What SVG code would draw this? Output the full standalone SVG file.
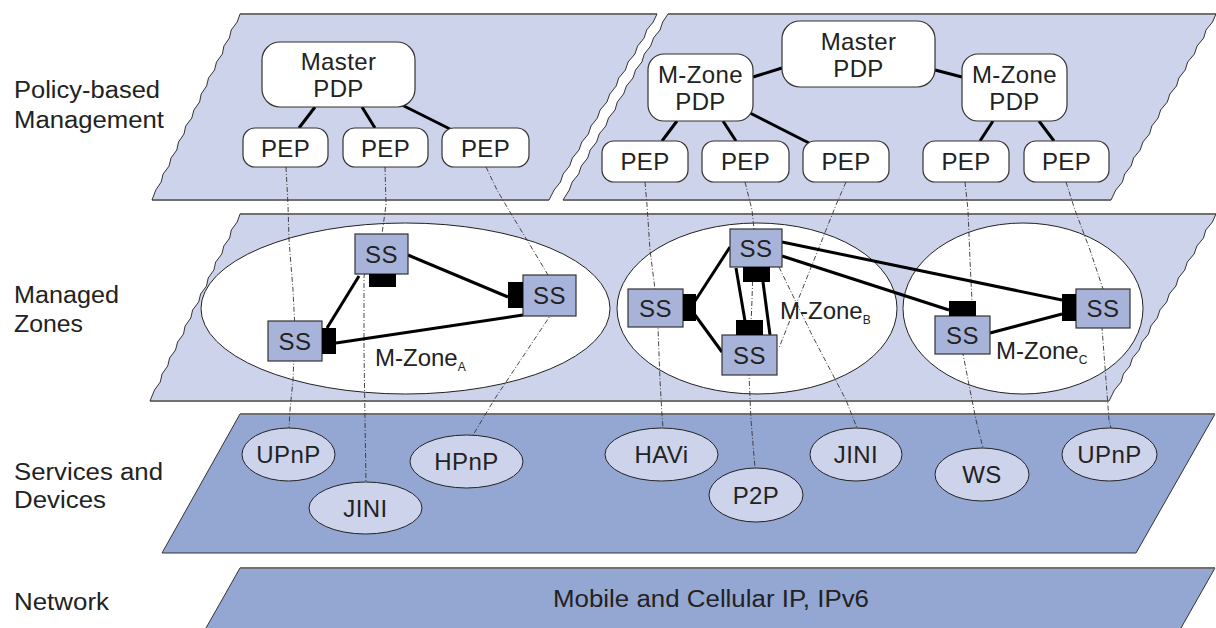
<svg xmlns="http://www.w3.org/2000/svg" width="1216" height="628" viewBox="0 0 1216 628">
<style>
text{font-family:"Liberation Sans",Arial,Helvetica,sans-serif;fill:#222;}
.lbl{font-size:23px;}
.nt{font-size:24px;text-anchor:middle;letter-spacing:0.4px;}
.zl{font-size:24px;}
.sub{font-size:12px;}
.lay1{fill:#cdd3eb;stroke:none;}
.lay2{fill:#94a6d2;stroke:none;}
.edge{fill:none;stroke:#707070;stroke-width:2;}
.jag{fill:none;stroke:#333;stroke-width:1;stroke-linejoin:round;}
.box{fill:#fff;stroke:#333;stroke-width:1.2;}
.zone{fill:#fff;stroke:#222;stroke-width:1;}
.ss{fill:#a8b3da;stroke:#333;stroke-width:1.2;}
.port{fill:#000;}
.svc{fill:#cdd3eb;stroke:#222;stroke-width:1;}
.thick{fill:none;stroke:#000;stroke-width:3;}
.dash{fill:none;stroke:#333;stroke-width:0.9;stroke-dasharray:5 2 1 2;}
</style>

<!-- layer backgrounds -->
<g id="layer-policy">
<path class="lay1" d="M240,14 L657,14 653.2,22 646.7,30 644.1,38 637.6,46 634.9,54 628.1,62 625.4,70 618.7,78 616.2,86 609.8,94 606.9,102 600.1,110 597.4,118 591,126 588.4,134 581.8,142 579,150 572.4,158 569.6,166 563.1,174 560.5,182 554.1,190 549,200 L152,200 155.8,190 161.2,182 163.1,174 169.1,166 171,158 176.8,150 178.5,142 184,134 185.7,126 191.8,118 193.9,110 199.6,102 201.2,94 206.6,86 208.5,78 214.5,70 216.5,62 222.4,54 223.9,46 229.4,38 231.2,30 237.2,22 Z"/>
<path class="lay1" d="M668,14 L1216,14 1212.5,22 1206,30 1203.7,38 1197.1,46 1194.4,54 1187.7,62 1185.2,70 1178.9,78 1176.5,86 1169.9,94 1167.3,102 1160.6,110 1158.1,118 1151.8,126 1149.5,134 1142.9,142 1140.2,150 1133.6,158 1131.1,166 1124.7,174 1122.4,182 1115.8,190 1111,200 L563,200 569.3,190 572.2,182 578.7,174 581.3,166 587.7,158 590.2,150 596.6,142 599.2,134 605.8,126 608.5,118 615,110 617.3,102 623.6,94 626.4,86 633,78 635.5,70 641.9,62 644.3,54 650.7,46 653.5,38 660,30 662.7,22 Z"/>
<line class="edge" x1="240" y1="14" x2="657" y2="14"/>
<line class="edge" x1="668" y1="14" x2="1216" y2="14"/>
<line class="edge" x1="152" y1="200" x2="549" y2="200"/>
<line class="edge" x1="563" y1="200" x2="1111" y2="200"/>
<polyline class="jag" points="240,14 237.2,22 231.2,30 229.4,38 223.9,46 222.4,54 216.5,62 214.5,70 208.5,78 206.6,86 201.2,94 199.6,102 193.9,110 191.8,118 185.7,126 184,134 178.5,142 176.8,150 171,158 169.1,166 163.1,174 161.2,182 155.8,190 152,200"/>
<polyline class="jag" points="657,14 653.2,22 646.7,30 644.1,38 637.6,46 634.9,54 628.1,62 625.4,70 618.7,78 616.2,86 609.8,94 606.9,102 600.1,110 597.4,118 591,126 588.4,134 581.8,142 579,150 572.4,158 569.6,166 563.1,174 560.5,182 554.1,190 549,200"/>
<polyline class="jag" points="668,14 662.7,22 660,30 653.5,38 650.7,46 644.3,54 641.9,62 635.5,70 633,78 626.4,86 623.6,94 617.3,102 615,110 608.5,118 605.8,126 599.2,134 596.6,142 590.2,150 587.7,158 581.3,166 578.7,174 572.2,182 569.3,190 563,200"/>
<polyline class="jag" points="1216,14 1212.5,22 1206,30 1203.7,38 1197.1,46 1194.4,54 1187.7,62 1185.2,70 1178.9,78 1176.5,86 1169.9,94 1167.3,102 1160.6,110 1158.1,118 1151.8,126 1149.5,134 1142.9,142 1140.2,150 1133.6,158 1131.1,166 1124.7,174 1122.4,182 1115.8,190 1111,200"/>
</g>

<g id="layer-zones">
<path class="lay1" d="M240,214 L1216,214 1212.4,222 1205.8,230 1203.5,238 1196.9,246 1194.1,254 1187.3,262 1184.8,270 1178.4,278 1175.9,286 1169.3,294 1166.7,302 1159.9,310 1157.3,318 1150.9,326 1148.5,334 1141.9,342 1139.2,350 1132.5,358 1129.9,366 1123.4,374 1121.1,382 1114.5,390 1109,401 L150,401 154.5,390 160.3,382 162,374 167.7,366 169.6,358 175.5,350 177.6,342 183.5,334 185.1,326 190.8,318 192.6,310 198.7,302 200.6,294 206.5,286 208.2,278 213.9,270 215.7,262 221.8,254 223.8,246 229.7,238 231.3,230 237.2,222 Z"/>
<line class="edge" x1="240" y1="214" x2="1216" y2="214"/>
<line class="edge" x1="150" y1="401" x2="1109" y2="401"/>
<polyline class="jag" points="240,214 237.2,222 231.3,230 229.7,238 223.8,246 221.8,254 215.7,262 213.9,270 208.2,278 206.5,286 200.6,294 198.7,302 192.6,310 190.8,318 185.1,326 183.5,334 177.6,342 175.5,350 169.6,358 167.7,366 162,374 160.3,382 154.5,390 150,401"/>
<polyline class="jag" points="1216,214 1212.4,222 1205.8,230 1203.5,238 1196.9,246 1194.1,254 1187.3,262 1184.8,270 1178.4,278 1175.9,286 1169.3,294 1166.7,302 1159.9,310 1157.3,318 1150.9,326 1148.5,334 1141.9,342 1139.2,350 1132.5,358 1129.9,366 1123.4,374 1121.1,382 1114.5,390 1109,401"/>
</g>

<g id="layer-services">
<polygon class="lay2" points="240,414 1215,414 1136,553 162,553"/>
<polyline class="jag" points="1215,414 1136,553 162,553 240,414"/>
<line class="edge" x1="240" y1="414" x2="1215" y2="414"/>
</g>

<g id="layer-network">
<polygon class="lay2" points="240,568 1215,568 1181,628 206,628"/>
<line class="jag" x1="240" y1="568" x2="206" y2="628"/>
<line class="jag" x1="1215" y1="568" x2="1181" y2="628"/>
<line class="edge" x1="240" y1="568" x2="1215" y2="568"/>
</g>

<!-- layer labels -->
<g id="labels">
<text class="lbl" x="14" y="98" textLength="146" lengthAdjust="spacingAndGlyphs">Policy-based</text>
<text class="lbl" x="14" y="128" textLength="150" lengthAdjust="spacingAndGlyphs">Management</text>
<text class="lbl" x="14" y="303" textLength="105" lengthAdjust="spacingAndGlyphs">Managed</text>
<text class="lbl" x="14" y="332" textLength="69" lengthAdjust="spacingAndGlyphs">Zones</text>
<text class="lbl" x="14" y="480" textLength="149" lengthAdjust="spacingAndGlyphs">Services and</text>
<text class="lbl" x="14" y="508" textLength="92" lengthAdjust="spacingAndGlyphs">Devices</text>
<text class="lbl" x="14" y="610" textLength="95" lengthAdjust="spacingAndGlyphs">Network</text>
</g>

<!-- zones -->
<g id="zone-A"><ellipse class="zone" cx="405.5" cy="308.5" rx="204.5" ry="85.5"/></g>
<g id="zone-B"><ellipse class="zone" cx="757" cy="308.5" rx="140" ry="85.5"/></g>
<g id="zone-C"><ellipse class="zone" cx="1023" cy="308.5" rx="120" ry="85.5"/></g>

<!-- connectors -->
<g id="connectors">
<polyline class="dash" points="286,167 288,205 289,240 293,290 295,330 293,380 290,410 289,428"/>
<polyline class="dash" points="385,167 386,205 382,234 364,276 364,350 365,420 366,482"/>
<polyline class="dash" points="486,167 497,190 510,212 530,245 548,275 550,316 522,358 494,400 473,435"/>
<polyline class="dash" points="645,182 647,205 650,250 655,289 658,327 660,380 662,415 663,428"/>
<polyline class="dash" points="745,182 752,210 754,229 752,300 749,375 751,420 755,468"/>
<polyline class="dash" points="846,182 836,205 810,270 790,320 779,348"/>
<polyline class="dash" points="779,267 812,335 846,400 857,428"/>
<polyline class="dash" points="965,182 968,210 970,260 972,301 966,340 963,354 970,390 976,420 983,448"/>
<polyline class="dash" points="1066,182 1075,210 1090,250 1103,289 1102,328 1106,380 1109,420 1111,428"/>

<line class="thick" x1="315" y1="107" x2="299" y2="128"/>
<line class="thick" x1="362" y1="107" x2="375" y2="128"/>
<line class="thick" x1="402" y1="105" x2="450" y2="129"/>
<line class="thick" x1="782" y1="68" x2="753" y2="77"/>
<line class="thick" x1="935" y1="70" x2="962" y2="77"/>
<line class="thick" x1="677" y1="121" x2="662" y2="141"/>
<line class="thick" x1="723" y1="121" x2="736" y2="141"/>
<line class="thick" x1="750" y1="113" x2="809" y2="143"/>
<line class="thick" x1="993" y1="121" x2="980" y2="141"/>
<line class="thick" x1="1039" y1="121" x2="1054" y2="141"/>

<line class="thick" x1="408" y1="255" x2="508" y2="297"/>
<line class="thick" x1="359" y1="276" x2="327" y2="328"/>
<line class="thick" x1="336" y1="343" x2="523" y2="315"/>
<line class="thick" x1="730" y1="247" x2="695" y2="301"/>
<line class="thick" x1="695" y1="315" x2="722" y2="352"/>
<line class="thick" x1="736" y1="268" x2="745" y2="321"/>
<line class="thick" x1="763" y1="282" x2="770" y2="335"/>
<line class="thick" x1="782" y1="256" x2="949" y2="310"/>
<line class="thick" x1="782" y1="242" x2="1062" y2="300"/>
<line class="thick" x1="990" y1="333" x2="1062" y2="314"/>
</g>

<!-- policy nodes -->
<g id="master-pdp-1"><rect class="box" x="262" y="42" width="153" height="65" rx="18"/><text class="nt" x="338.5" y="70">Master</text><text class="nt" x="338.5" y="97">PDP</text></g>
<g id="pep-1"><rect class="box" x="243" y="128" width="85" height="39" rx="12"/><text class="nt" x="285.5" y="157">PEP</text></g>
<g id="pep-2"><rect class="box" x="343" y="128" width="85" height="39" rx="12"/><text class="nt" x="385.5" y="157">PEP</text></g>
<g id="pep-3"><rect class="box" x="442" y="128" width="87" height="39" rx="12"/><text class="nt" x="485.5" y="157">PEP</text></g>

<g id="master-pdp-2"><rect class="box" x="782" y="21" width="153" height="66" rx="18"/><text class="nt" x="858.5" y="50">Master</text><text class="nt" x="858.5" y="77">PDP</text></g>
<g id="mzone-pdp-1"><rect class="box" x="648" y="54" width="105" height="67" rx="16"/><text class="nt" x="700.5" y="83">M-Zone</text><text class="nt" x="700.5" y="110">PDP</text></g>
<g id="mzone-pdp-2"><rect class="box" x="962" y="54" width="105" height="67" rx="16"/><text class="nt" x="1014.5" y="83">M-Zone</text><text class="nt" x="1014.5" y="110">PDP</text></g>
<g id="pep-4"><rect class="box" x="602" y="141" width="86" height="41" rx="12"/><text class="nt" x="645" y="170">PEP</text></g>
<g id="pep-5"><rect class="box" x="702" y="141" width="87" height="41" rx="12"/><text class="nt" x="745.5" y="170">PEP</text></g>
<g id="pep-6"><rect class="box" x="803" y="141" width="86" height="41" rx="12"/><text class="nt" x="846" y="170">PEP</text></g>
<g id="pep-7"><rect class="box" x="923" y="141" width="86" height="41" rx="12"/><text class="nt" x="966" y="170">PEP</text></g>
<g id="pep-8"><rect class="box" x="1024" y="141" width="85" height="41" rx="12"/><text class="nt" x="1066.5" y="170">PEP</text></g>

<!-- SS nodes -->
<g id="ss-a1"><rect class="ss" x="355" y="234" width="53" height="40"/><rect class="port" x="369" y="274" width="27" height="13"/><text class="nt" x="381.5" y="263">SS</text></g>
<g id="ss-a2"><rect class="ss" x="523" y="275" width="53" height="41"/><rect class="port" x="508" y="282" width="15" height="26"/><text class="nt" x="549.5" y="304">SS</text></g>
<g id="ss-a3"><rect class="ss" x="268" y="321" width="54" height="40"/><rect class="port" x="322" y="328" width="14" height="26"/><text class="nt" x="295" y="350">SS</text></g>
<g id="label-zone-a"><text class="zl" x="375" y="366">M-Zone<tspan class="sub" dy="5">A</tspan></text></g>

<g id="ss-b1"><rect class="ss" x="730" y="229" width="52" height="38"/><rect class="port" x="743" y="267" width="27" height="15"/><text class="nt" x="756" y="257">SS</text></g>
<g id="ss-b2"><rect class="ss" x="628" y="289" width="55" height="38"/><rect class="port" x="683" y="294" width="13" height="27"/><text class="nt" x="655.5" y="317">SS</text></g>
<g id="ss-b3"><rect class="ss" x="722" y="335" width="55" height="40"/><rect class="port" x="736" y="320" width="27" height="15"/><text class="nt" x="749.5" y="364">SS</text></g>
<g id="label-zone-b"><text class="zl" x="780" y="319">M-Zone<tspan class="sub" dy="5">B</tspan></text></g>

<g id="ss-c1"><rect class="ss" x="935" y="316" width="55" height="38"/><rect class="port" x="949" y="301" width="27" height="15"/><text class="nt" x="962.5" y="344">SS</text></g>
<g id="ss-c2"><rect class="ss" x="1076" y="289" width="54" height="39"/><rect class="port" x="1062" y="294" width="14" height="27"/><text class="nt" x="1103" y="317">SS</text></g>
<g id="label-zone-c"><text class="zl" x="996" y="359">M-Zone<tspan class="sub" dy="5">C</tspan></text></g>

<!-- services -->
<g id="svc-upnp-1"><ellipse class="svc" cx="288.5" cy="454.5" rx="46.5" ry="26.5"/><text class="nt" x="288.5" y="463">UPnP</text></g>
<g id="svc-jini-1"><ellipse class="svc" cx="365.5" cy="508" rx="56.5" ry="26"/><text class="nt" x="365.5" y="516.5">JINI</text></g>
<g id="svc-hpnp"><ellipse class="svc" cx="466.5" cy="461.5" rx="56.5" ry="26.5"/><text class="nt" x="466.5" y="470">HPnP</text></g>
<g id="svc-havi"><ellipse class="svc" cx="661.5" cy="454.5" rx="56.5" ry="26.5"/><text class="nt" x="661.5" y="463">HAVi</text></g>
<g id="svc-p2p"><ellipse class="svc" cx="756" cy="495" rx="47" ry="27"/><text class="nt" x="756" y="503.5">P2P</text></g>
<g id="svc-jini-2"><ellipse class="svc" cx="856" cy="454.5" rx="46" ry="26.5"/><text class="nt" x="856" y="463">JINI</text></g>
<g id="svc-ws"><ellipse class="svc" cx="982" cy="474.5" rx="47" ry="26.5"/><text class="nt" x="982" y="483">WS</text></g>
<g id="svc-upnp-2"><ellipse class="svc" cx="1109.5" cy="454.5" rx="47.5" ry="26.5"/><text class="nt" x="1109.5" y="463">UPnP</text></g>

<g id="network-label"><text x="711" y="607" style="font-size:23px;text-anchor:middle" textLength="316" lengthAdjust="spacingAndGlyphs">Mobile and Cellular IP, IPv6</text></g>
</svg>
